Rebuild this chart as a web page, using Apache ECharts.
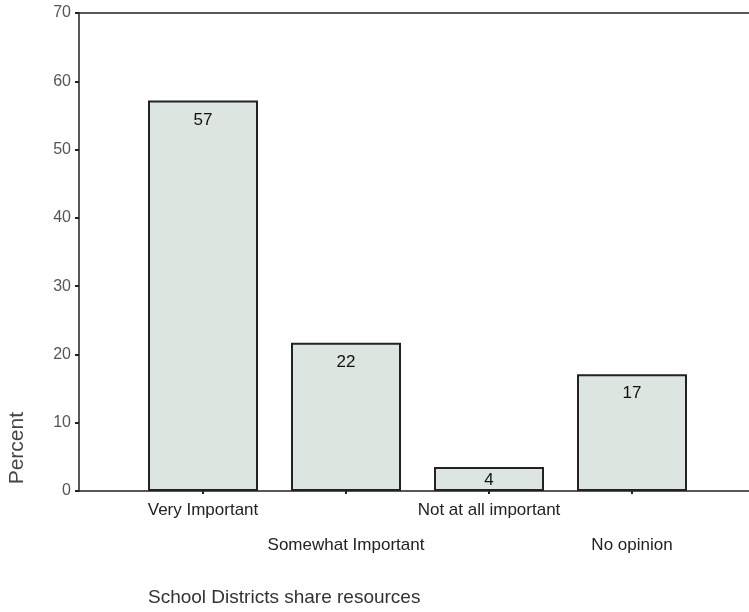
<!DOCTYPE html>
<html>
<head>
<meta charset="utf-8">
<script src="https://cdn.jsdelivr.net/npm/echarts@6/dist/echarts.min.js"></script>
<style>
  html, body { margin: 0; padding: 0; background: #fff; }
  #chart { width: 749px; height: 612px; }
</style>
</head>
<body>
<div id="chart"></div>
<script>
// categories and percentages
const categories = ['Very Important', 'Somewhat Important', 'Not at all important', 'No opinion']
const percents = [57.2, 21.7, 3.5, 17.1]
const yTicks = { min: 0, max: 70, step: 10 }

const chart = echarts.init(document.getElementById('chart'))
const font = 'Arial, "Liberation Sans", sans-serif'
const lineStyle = { color: '#222', width: 1.5 }

// short bars get their label pulled up a little so it stays inside
const barData = percents.map(v => ({ value: v, label: { distance: v < 5 ? 5 : 11 } }))

chart.setOption({
  animation: false,
  title: {
    text: 'School Districts share resources',
    left: 143,
    top: 583,
    textStyle: { fontFamily: font, fontSize: 19, fontWeight: 'normal', color: '#333' }
  },
  graphic: [{
    // y axis title, sits low beside the axis like the original
    type: 'text',
    left: 7,
    top: 412,
    rotation: Math.PI / 2,
    style: { text: 'Percent', font: '21px ' + font, fill: '#444' }
  }],
  grid: [
    // frame grid: left axis + top/bottom lines, running off the right edge
    { left: 79, right: -2, top: 13, bottom: 121 },
    // bar grid: bands of 143px, first centre at x=203
    { left: 131.5, right: 45.5, top: 13, bottom: 121 }
  ],
  xAxis: [
    { gridIndex: 0, type: 'value', min: 0, max: 1, axisLine: { show: true, lineStyle }, axisTick: { show: false }, axisLabel: { show: false }, splitLine: { show: false } },
    { gridIndex: 0, type: 'value', position: 'top', min: 0, max: 1, axisLine: { show: true, lineStyle }, axisTick: { show: false }, axisLabel: { show: false }, splitLine: { show: false } },
    {
      gridIndex: 1,
      type: 'category',
      data: categories,
      axisLine: { show: false },
      axisTick: { show: true, alignWithLabel: true, length: 3, lineStyle: { color: '#222', width: 2 } },
      axisLabel: {
        interval: 0,
        margin: 2,
        fontFamily: font,
        fontSize: 17,
        color: '#222',
        lineHeight: 35,
        formatter: (v, i) => (i % 2 ? '\n' + v : v)
      }
    }
  ],
  yAxis: [
    {
      gridIndex: 0,
      type: 'value',
      min: yTicks.min,
      max: yTicks.max,
      interval: yTicks.step,
      axisLine: { show: true, lineStyle },
      axisTick: { show: true, length: 4, lineStyle: { color: '#222', width: 2 } },
      axisLabel: { fontFamily: font, fontSize: 16, color: '#555', margin: 8 },
      splitLine: { show: false }
    },
    { gridIndex: 1, type: 'value', min: yTicks.min, max: yTicks.max, show: false }
  ],
  series: [{
    type: 'bar',
    xAxisIndex: 2,
    yAxisIndex: 1,
    data: barData,
    barWidth: 110,
    itemStyle: { color: '#dde5e1', borderColor: '#222', borderWidth: 2 },
    label: {
      show: true,
      position: 'insideTop',
      fontFamily: font,
      fontSize: 17,
      color: '#111',
      formatter: p => Math.round(p.value)
    }
  }]
})
</script>
</body>
</html>
